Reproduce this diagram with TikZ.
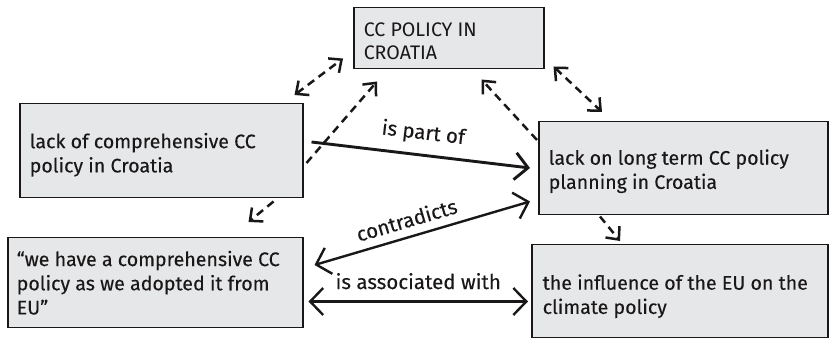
\documentclass[tikz,border=0pt]{standalone}
\usepackage{fontspec}
\setmainfont{Fira Sans}
\newfontfamily\medfont{Fira Sans}[FakeBold=0.25]
\usetikzlibrary{arrows.meta,calc}
\definecolor{boxfill}{HTML}{E6E7E8}
\definecolor{ink}{HTML}{1A1718}
\newcommand{\boxtext}[3]{\raisebox{#2}[\height][\depth]{\parbox{#1}{\raggedright #3}}}
\begin{document}
\begin{tikzpicture}[x=1pt,y=1pt,
  box/.style={draw=ink,fill=boxfill,line width=1.5pt,rectangle,anchor=north west,
    inner xsep=10pt,inner ysep=2pt,text=ink,font=\medfont\fontsize{19.6}{24.2}\selectfont},
  dsh/.style={draw=ink,line width=2.5pt,dash pattern=on 8pt off 5.5pt},
  dtip/.style={-{Straight Barb[length=10pt,width=18pt]}},
  ddtip/.style={{Straight Barb[length=10pt,width=18pt]}-{Straight Barb[length=10pt,width=18pt]}},
  sol/.style={draw=ink,line width=2.4pt},
  stip/.style={-{Straight Barb[length=13pt,width=27pt]}},
  sstip/.style={{Straight Barb[length=13pt,width=27pt]}-{Straight Barb[length=13pt,width=27pt]}},
  lbl/.style={text=ink,font=\medfont\fontsize{20.5}{24}\selectfont,inner sep=0pt}
]
\useasboundingbox (0,0) rectangle (829,339);
\node[box,minimum width=190pt,minimum height=61pt,font=\fontsize{19.6}{22.5}\selectfont] (cc) at (353,332) {\boxtext{170pt}{-3pt}{CC POLICY IN\\CROATIA}};
\node[box,minimum width=283pt,minimum height=94pt] (lackc) at (19,236) {\boxtext{263pt}{-4pt}{lack of comprehensive CC\\policy in Croatia}};
\node[box,minimum width=289pt,minimum height=93pt] (longt) at (538,218) {\boxtext{269pt}{-3pt}{lack on long term CC policy\\planning in Croatia}};
\node[box,minimum width=295pt,minimum height=90pt,inner xsep=9pt] (wehave) at (7,102) {\boxtext{277pt}{0pt}{“we have a comprehensive CC\\policy as we adopted it from\\EU”}};
\node[box,minimum width=296pt,minimum height=93pt,inner xsep=11pt] (infl) at (531,95) {\boxtext{274pt}{-5pt}{the influence of the EU on the\\climate policy}};

% dashed connectors
\draw[dsh,ddtip] ([shift={(-9,8)}]lackc.north east) -- ([shift={(-10,11)}]cc.south west);
\draw[dsh,dtip] ([shift={(3,-60)}]lackc.north east) -- ([shift={(24,-12)}]cc.south west);
\draw[dsh,dtip] ([shift={(-1,-19)}]longt.north west) -- ([shift={(-63,-10)}]cc.south east);
\draw[dsh,ddtip] ([shift={(9,3)}]cc.south east) -- ([shift={(64,9)}]longt.north west);
\draw[dsh,dtip] ([shift={(-30,-3)}]lackc.south east) -- ([shift={(-55,15)}]wehave.north east);
\draw[dsh,dtip] ([shift={(62,-1)}]longt.south west) -- ([shift={(89,3)}]infl.north west);

% solid connectors
\draw[sol,line width=2.9pt,stip] ([shift={(8,-39)}]lackc.north east) -- node[lbl,sloped,above=10pt]{is part of} ([shift={(-8,-47)}]longt.north west);
\draw[sol,sstip] ([shift={(11,-28)}]wehave.north east) -- node[lbl,sloped,above=8pt,pos=0.45]{contradicts} ([shift={(-8,14)}]longt.south west);
\draw[sol,sstip] ([shift={(5,27)}]wehave.south east) -- node[lbl,above=11pt]{is associated with} ([shift={(-3,37)}]infl.south west);
\end{tikzpicture}
\end{document}
